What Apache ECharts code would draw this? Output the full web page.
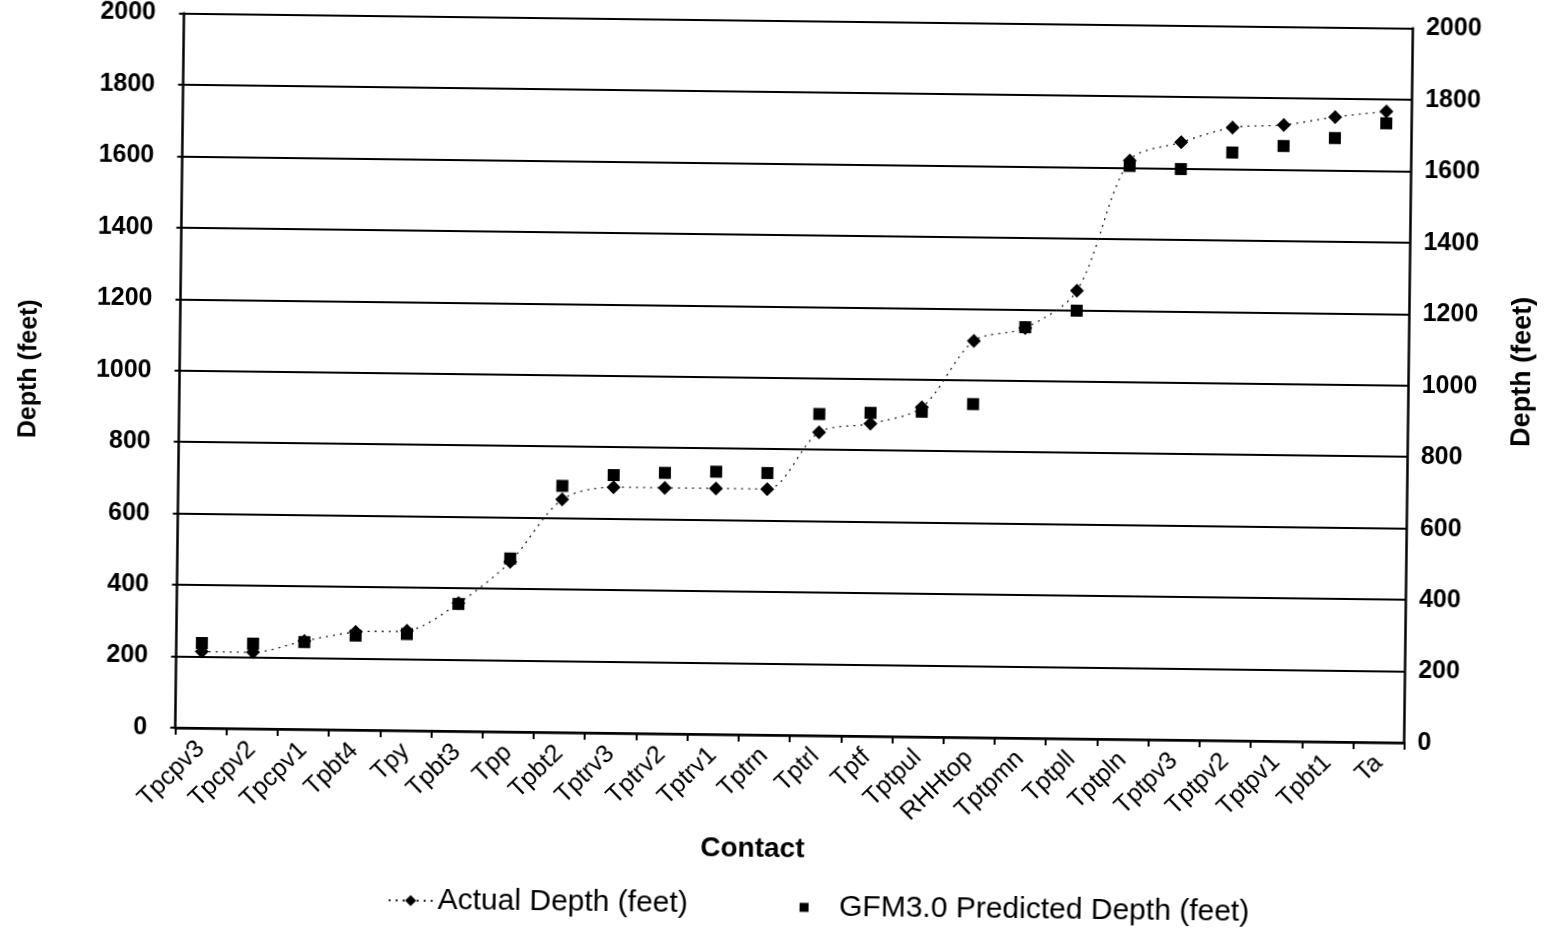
<!DOCTYPE html>
<html>
<head>
<meta charset="utf-8">
<script src="https://cdn.jsdelivr.net/npm/echarts@6/dist/echarts.min.js"></script>
<style>
  html, body { margin: 0; padding: 0; background: #fff; overflow: hidden; }
  #chart {
    width: 1549px; height: 928px;
    transform: rotate(0.7deg);
    transform-origin: 774.5px 464px;
  }
</style>
</head>
<body>
<div id="chart"></div>
<script>
// Contacts down the borehole
const contacts = [
  'Tpcpv3', 'Tpcpv2', 'Tpcpv1', 'Tpbt4', 'Tpy', 'Tpbt3', 'Tpp', 'Tpbt2',
  'Tptrv3', 'Tptrv2', 'Tptrv1', 'Tptrn', 'Tptrl', 'Tptf', 'Tptpul', 'RHHtop',
  'Tptpmn', 'Tptpll', 'Tptpln', 'Tptpv3', 'Tptpv2', 'Tptpv1', 'Tpbt1', 'Ta'
];

// Depth to each contact (feet)
const actualDepth = [
  214, 214, 247, 274, 279, 358, 476, 652,
  688, 688, 688, 688, 849, 875, 922, 1110,
  1148, 1254, 1620, 1673, 1716, 1725, 1749, 1766
];
const predictedDepth = [
  238, 238, 244, 264, 270, 356, 485, 690,
  722, 730, 735, 733, 900, 905, 910, 933,
  1150, 1198, 1605, 1598, 1646, 1666, 1690, 1733
];

// Depth axis ticks
const depthMin = 0;
const depthMax = 2000;
const depthStep = 200;

const seriesNames = ['Actual Depth (feet)', 'GFM3.0 Predicted Depth (feet)'];

const FONT = '"Liberation Sans", Arial, sans-serif';
const INK = '#000';

const plainNumber = v => String(v);

const chart = echarts.init(document.getElementById('chart'), null, { renderer: 'canvas' });

chart.setOption({
  backgroundColor: '#fff',
  animation: false,
  textStyle: { fontFamily: FONT, color: INK },
  grid: { left: 178.5, right: 141.3, top: 20.5, bottom: 193, containLabel: false },
  legend: [
    {
      data: [seriesNames[0]],
      left: 388, top: 885,
      itemWidth: 44, itemHeight: 14,
      textStyle: { fontFamily: FONT, fontSize: 30, color: INK }
    },
    {
      data: [{ name: seriesNames[1], icon: 'path://M0,0L10,0L10,10L0,10Z' }],
      left: 800, top: 887,
      itemWidth: 60, itemHeight: 9,
      symbolKeepAspect: true,
      textStyle: { fontFamily: FONT, fontSize: 30, color: INK }
    }
  ],
  xAxis: {
    type: 'category',
    data: contacts,
    boundaryGap: true,
    name: 'Contact',
    nameLocation: 'middle',
    nameGap: 100,
    nameTextStyle: {
      fontFamily: FONT, fontSize: 28, fontWeight: 'bold', color: INK,
      padding: [0, 72, 0, 0]
    },
    axisLine: { lineStyle: { color: INK, width: 2.5 } },
    axisTick: { show: true, length: 7, lineStyle: { color: INK, width: 2 } },
    axisLabel: {
      interval: 0, rotate: 45, margin: 17,
      fontFamily: FONT, fontSize: 25, color: INK
    },
    splitLine: { show: false }
  },
  yAxis: [
    {
      type: 'value',
      min: depthMin, max: depthMax, interval: depthStep,
      position: 'left',
      name: 'Depth (feet)',
      nameLocation: 'middle',
      nameRotate: 90,
      nameGap: 138,
      nameTextStyle: { fontFamily: FONT, fontSize: 25, fontWeight: 'bold', color: INK },
      axisLine: { show: true, lineStyle: { color: INK, width: 2.5 } },
      axisTick: { show: true, length: 5, lineStyle: { color: INK, width: 2 } },
      axisLabel: {
        margin: 28, fontFamily: FONT, fontSize: 25, fontWeight: 'bold',
        color: INK, formatter: plainNumber
      },
      splitLine: { show: true, lineStyle: { color: INK, width: 2 } }
    },
    {
      type: 'value',
      min: depthMin, max: depthMax, interval: depthStep,
      position: 'right',
      name: 'Depth (feet)',
      nameLocation: 'middle',
      nameRotate: 90,
      nameGap: 100,
      nameTextStyle: {
        fontFamily: FONT, fontSize: 27, fontWeight: 'bold', color: INK,
        padding: [0, 0, 0, 30]
      },
      axisLine: { show: true, lineStyle: { color: INK, width: 2.5 } },
      axisTick: { show: false },
      axisLabel: {
        margin: 13, fontFamily: FONT, fontSize: 25, fontWeight: 'bold',
        color: INK, formatter: plainNumber
      },
      splitLine: { show: false }
    }
  ],
  series: [
    {
      name: seriesNames[0],
      type: 'line',
      yAxisIndex: 0,
      data: actualDepth,
      smooth: 0.3,
      symbol: 'diamond',
      symbolSize: 14,
      itemStyle: { color: INK, opacity: 1 },
      lineStyle: { color: '#222', width: 1.3, type: [2, 5] },
      z: 3
    },
    {
      name: seriesNames[1],
      type: 'scatter',
      yAxisIndex: 0,
      data: predictedDepth,
      symbol: 'rect',
      symbolSize: 12,
      itemStyle: { color: INK, opacity: 1 },
      z: 4
    }
  ]
});
</script>
</body>
</html>
